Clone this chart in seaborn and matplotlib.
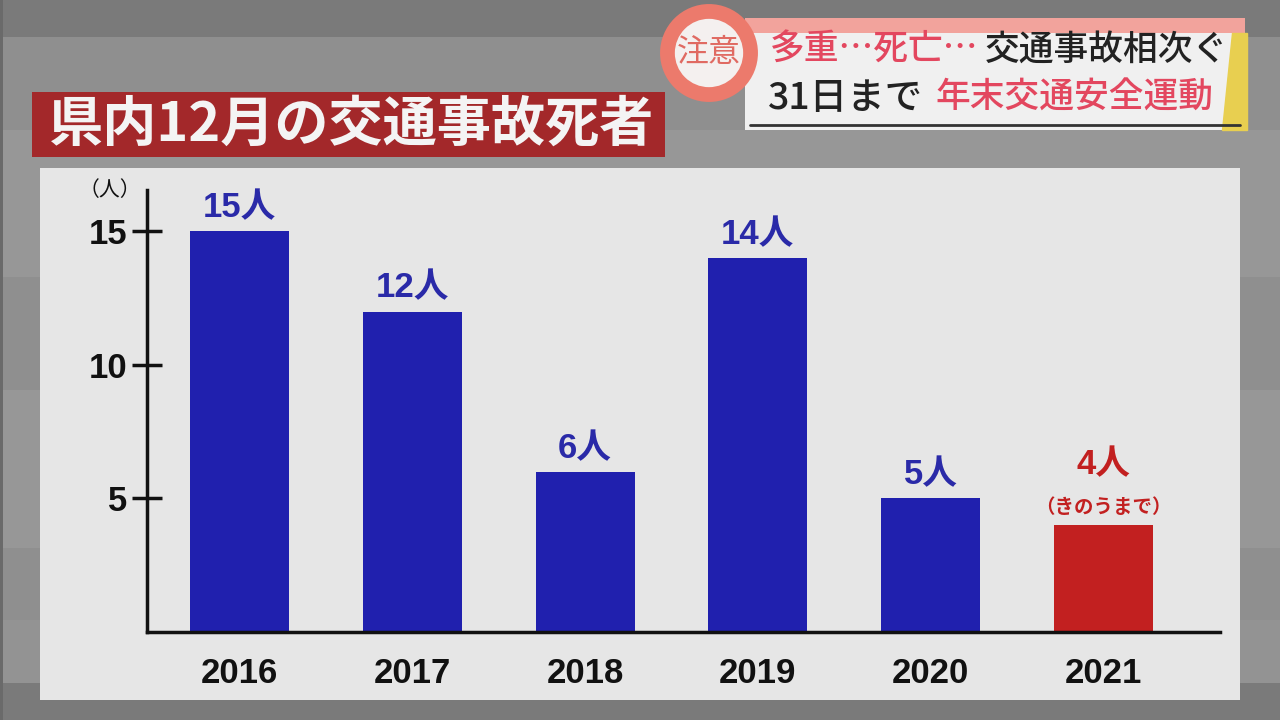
import matplotlib
matplotlib.use("Agg")
import matplotlib.pyplot as plt
import seaborn as sns
import pandas as pd
from matplotlib.patches import Rectangle, Circle, Polygon

years = ["2016", "2017", "2018", "2019", "2020", "2021"]
deaths = [15, 12, 6, 14, 5, 4]
labels = ["15人", "12人", "6人", "14人", "5人", "4人"]
bar_colors = ["#2020ae", "#2020ae", "#2020ae", "#2020ae", "#2020ae", "#c22020"]
yticks = [5, 10, 15]
title = "県内12月の交通事故死者"
note_2021 = "（きのうまで）"

sns.set_theme(style="white")
plt.rcParams['font.family'] = ['Noto Sans CJK JP', 'DejaVu Sans']

W, H = 1280, 720
fig = plt.figure(figsize=(12.8, 7.2), dpi=100)
fig.patch.set_facecolor("#8f8f8f")

def px(x, y, w, h):
    return (x / W, 1 - (y + h) / H, w / W, h / H)

def rect(x, y, w, h, c, z=1):
    x0, yb, ww, hb = px(x, y, w, h)
    fig.patches.append(Rectangle((x0, yb), ww, hb, transform=fig.transFigure,
                                 color=c, zorder=z, lw=0))

# background bands
rect(0, 130, W, 147, "#979797", 0)
rect(0, 390, W, 158, "#979797", 0)
rect(0, 620, W, 63, "#939393", 0)
rect(0, 0, W, 37, "#7a7a7a", 0)
rect(0, 683, W, 37, "#7a7a7a", 0)
rect(0, 0, 3, H, "#6a6a6a", 0)

# panel
rect(40, 168, 1200, 532, "#e6e6e6", 1)
# title box
rect(32, 92, 633, 65, "#a3282a", 1)
fig.text(352 / W, 1 - 125 / H, title, color="#f4f4f4", fontsize=39,
         fontweight="bold", ha="center", va="center", zorder=3)

# banner
rect(745, 20, 500, 110, "#f0f0f0", 1)
rect(745, 18, 500, 15, "#f2a39c", 2)
fig.patches.append(Polygon([(1232 / W, 1 - 33 / H), (1247 / W, 1 - 33 / H),
                            (1247 / W, 1 - 130 / H), (1222 / W, 1 - 130 / H)],
                           closed=True, transform=fig.transFigure,
                           color="#e8cf50", zorder=2))
fig.lines.append(plt.Line2D([750 / W, 1240 / W], [1 - 125 / H, 1 - 125 / H],
                            transform=fig.transFigure, color="#333333", lw=2, zorder=3))
# circle (in inches, so it stays round)
fig.patches.append(Circle((7.09, 7.2 - 0.53), 0.42, transform=fig.dpi_scale_trans,
                          facecolor="#f4f0ef", edgecolor="#ec7a6c", lw=10, zorder=4))
fig.patches.append(Circle((7.09, 7.2 - 0.53), 0.35, transform=fig.dpi_scale_trans,
                          facecolor="none", edgecolor="#ec7a6c", lw=1.2, zorder=4))
fig.text(709 / W, 1 - 53 / H, "注意", color="#e06a62", fontsize=23,
         ha="center", va="center", zorder=5)
pink = "#e3475f"
dark = "#222222"
fig.text(770 / W, 1 - 50 / H, "多重…死亡…", color=pink, fontsize=25,
         fontweight="medium", ha="left", va="center", zorder=5)
fig.text(985 / W, 1 - 50 / H, "交通事故相次ぐ", color=dark, fontsize=25,
         fontweight="medium", ha="left", va="center", zorder=5)
fig.text(768 / W, 1 - 98 / H, "31日まで", color=dark, fontsize=27,
         fontweight="medium", ha="left", va="center", zorder=5)
fig.text(935 / W, 1 - 98 / H, "年末交通安全運動", color=pink, fontsize=25,
         fontweight="medium", ha="left", va="center", zorder=5)

# chart axes
ax = fig.add_axes([147 / W, 1 - 632 / H, (1220 - 147) / W, (632 - 190) / H], zorder=3)
ax.set_facecolor("none")
df = pd.DataFrame({"year": years, "deaths": deaths})
sns.barplot(data=df, x="year", y="deaths", hue="year", palette=bar_colors,
            legend=False, width=0.573, saturation=1, linewidth=0, ax=ax)
ax.set_xlim(-0.535, 5.674)
ax.set_ylim(0, 16.55)
for s in ["top", "right"]:
    ax.spines[s].set_visible(False)
for s in ["left", "bottom"]:
    ax.spines[s].set_color("#111111")
    ax.spines[s].set_linewidth(2.5)
ax.set_yticks(yticks)
ax.set_yticklabels([str(v) for v in yticks], fontsize=25, fontweight="bold",
                   family=['Liberation Sans', 'DejaVu Sans'], color="#111111")
ax.tick_params(axis="y", left=True, direction="inout", length=22, width=2.5,
               color="#111111", pad=3)
ax.tick_params(axis="x", bottom=False, length=0, pad=18)
ax.set_xticks(range(len(years)))
ax.set_xticklabels(years, fontsize=25, fontweight="bold",
                   family=['Liberation Sans', 'DejaVu Sans'], color="#111111")
ax.set_xlabel("")
ax.set_ylabel("")
ax.text(-0.005, 1.0, "（人）", transform=ax.transAxes, ha="right", va="center",
        fontsize=15, color="#111111")

for i, (v, lab) in enumerate(zip(deaths, labels)):
    col = "#c22020" if i == 5 else "#2a2aa8"
    off = 32 if i == 5 else 5
    ax.annotate(lab, (i, v), xytext=(0, off), textcoords="offset points",
                ha="center", va="bottom", fontsize=25, fontweight="bold", color=col,
                family=['Liberation Sans', 'Noto Sans CJK JP'])
ax.annotate(note_2021, (5, deaths[5]), xytext=(0, 6), textcoords="offset points",
            ha="center", va="bottom", fontsize=14, fontweight="bold", color="#c22020")

fig.savefig("out.png", dpi=100, facecolor=fig.get_facecolor())
